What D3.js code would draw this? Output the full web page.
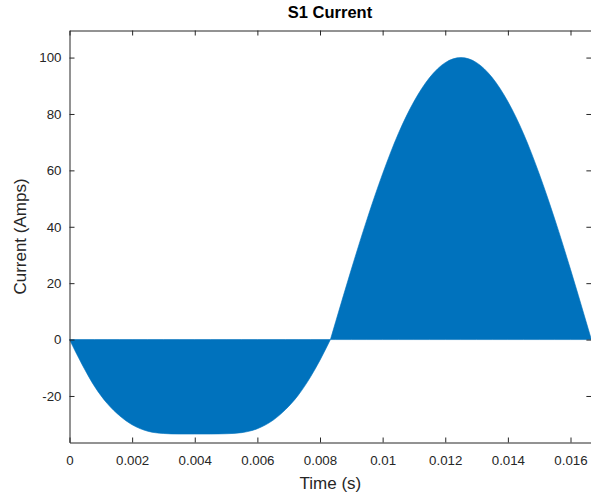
<!DOCTYPE html>
<html><head><meta charset="utf-8">
<script src="https://cdn.jsdelivr.net/npm/d3@7/dist/d3.min.js"></script>
<style>body{margin:0;background:#fff}svg{display:block}</style>
</head><body>
<svg id="chart" width="591" height="495"></svg>
<script>
// Envelope of S1 current (A)
const timeS = [0, 0.0004, 0.0008, 0.0012, 0.0016, 0.002, 0.0025, 0.003, 0.0035, 0.004, 0.0045, 0.005, 0.0055, 0.006, 0.0065, 0.0069, 0.0073, 0.0077, 0.008, 0.008333,
  0.0085, 0.009, 0.0095, 0.010, 0.0105, 0.011, 0.0115, 0.012, 0.0125, 0.013, 0.0135, 0.014, 0.0145, 0.015, 0.0155, 0.016, 0.0165, 0.016667];
const currentA = [0, -8.8, -16.6, -22.6, -27, -30.2, -32.5, -33.3, -33.5, -33.5, -33.5, -33.4, -33, -31.6, -28.6, -24.8, -19.8, -13.2, -7.3, 0,
  6.3, 24.9, 42.6, 58.8, 73.0, 84.4, 92.9, 98.2, 100, 98.2, 92.9, 84.4, 73.0, 58.8, 42.6, 24.9, 6.3, 0];
const xTicks = [0, 0.002, 0.004, 0.006, 0.008, 0.010, 0.012, 0.014, 0.016];
const xTickLabels = ["0", "0.002", "0.004", "0.006", "0.008", "0.01", "0.012", "0.014", "0.016"];
const yTicks = [-20, 0, 20, 40, 60, 80, 100];
const yTickLabels = ["-20", "0", "20", "40", "60", "80", "100"];
const xDomain = [0, 1 / 60];
const yDomain = [-36.5, 109.6];
const titleText = "S1 Current";
const xLabelText = "Time (s)";
const yLabelText = "Current (Amps)";

const svg = d3.select("#chart");
const pLeft = 69.5, pTop = 30.5, pBottom = 442.5;
const x0px = 69.5, x016px = 570.5;
const pRight = x0px + (x016px - x0px) * (xDomain[1] / 0.016);
const x = d3.scaleLinear().domain(xDomain).range([pLeft, pRight]);
const y = d3.scaleLinear().domain(yDomain).range([pBottom, pTop]);
const ink = "#262626";
const font = "'Liberation Sans', Arial, Helvetica, sans-serif";

const data = timeS.map((t, i) => ({ t, v: currentA[i] }));
const half = 1 / 120;
const negHalf = data.filter(d => d.t <= half + 1e-6);
const posHalf = data.filter(d => d.t >= half - 1e-6);
const area = d3.area().x(d => x(d.t)).y0(y(0)).y1(d => y(d.v)).curve(d3.curveMonotoneX);
svg.selectAll("path.fill").data([negHalf, posHalf]).join("path").attr("class", "fill")
  .attr("d", area).attr("fill", "#0072BD").attr("stroke", "#0072BD").attr("stroke-width", 0.6);

const tl = 5;
const g = svg.append("g");
const xb = d3.axisBottom(x).tickValues(xTicks).tickFormat((d, i) => xTickLabels[i]).tickSizeInner(-tl).tickSizeOuter(0).tickPadding(13);
g.append("g").attr("transform", `translate(0,${pBottom})`).call(xb);
const xt = d3.axisTop(x).tickValues(xTicks).tickFormat("").tickSizeInner(-tl).tickSizeOuter(0);
g.append("g").attr("transform", `translate(0,${pTop})`).call(xt);
const yl = d3.axisLeft(y).tickValues(yTicks).tickFormat((d, i) => yTickLabels[i]).tickSizeInner(-tl).tickSizeOuter(0).tickPadding(8);
g.append("g").attr("transform", `translate(${pLeft},0)`).call(yl);
const yr = d3.axisRight(y).tickValues(yTicks).tickFormat("").tickSizeInner(-tl).tickSizeOuter(0);
g.append("g").attr("transform", `translate(${pRight},0)`).call(yr);
g.selectAll(".domain").attr("stroke", ink).attr("stroke-width", 1);
g.selectAll(".tick line").attr("stroke", ink).attr("stroke-width", 1);
g.selectAll(".tick text").attr("fill", ink).style("font-family", font).style("font-size", "13.3px");

svg.append("text").attr("x", 330).attr("y", 18).attr("text-anchor", "middle")
  .style("font-family", font).style("font-size", "16.5px").style("font-weight", "bold").attr("fill", "#000").text(titleText);
svg.append("text").attr("x", (pLeft + pRight) / 2).attr("y", 489).attr("text-anchor", "middle")
  .style("font-family", font).style("font-size", "17px").attr("fill", ink).text(xLabelText);
svg.append("text").attr("transform", `translate(26,${(pTop + pBottom) / 2}) rotate(-90)`).attr("text-anchor", "middle")
  .style("font-family", font).style("font-size", "17px").attr("fill", ink).text(yLabelText);
</script>
</body></html>
